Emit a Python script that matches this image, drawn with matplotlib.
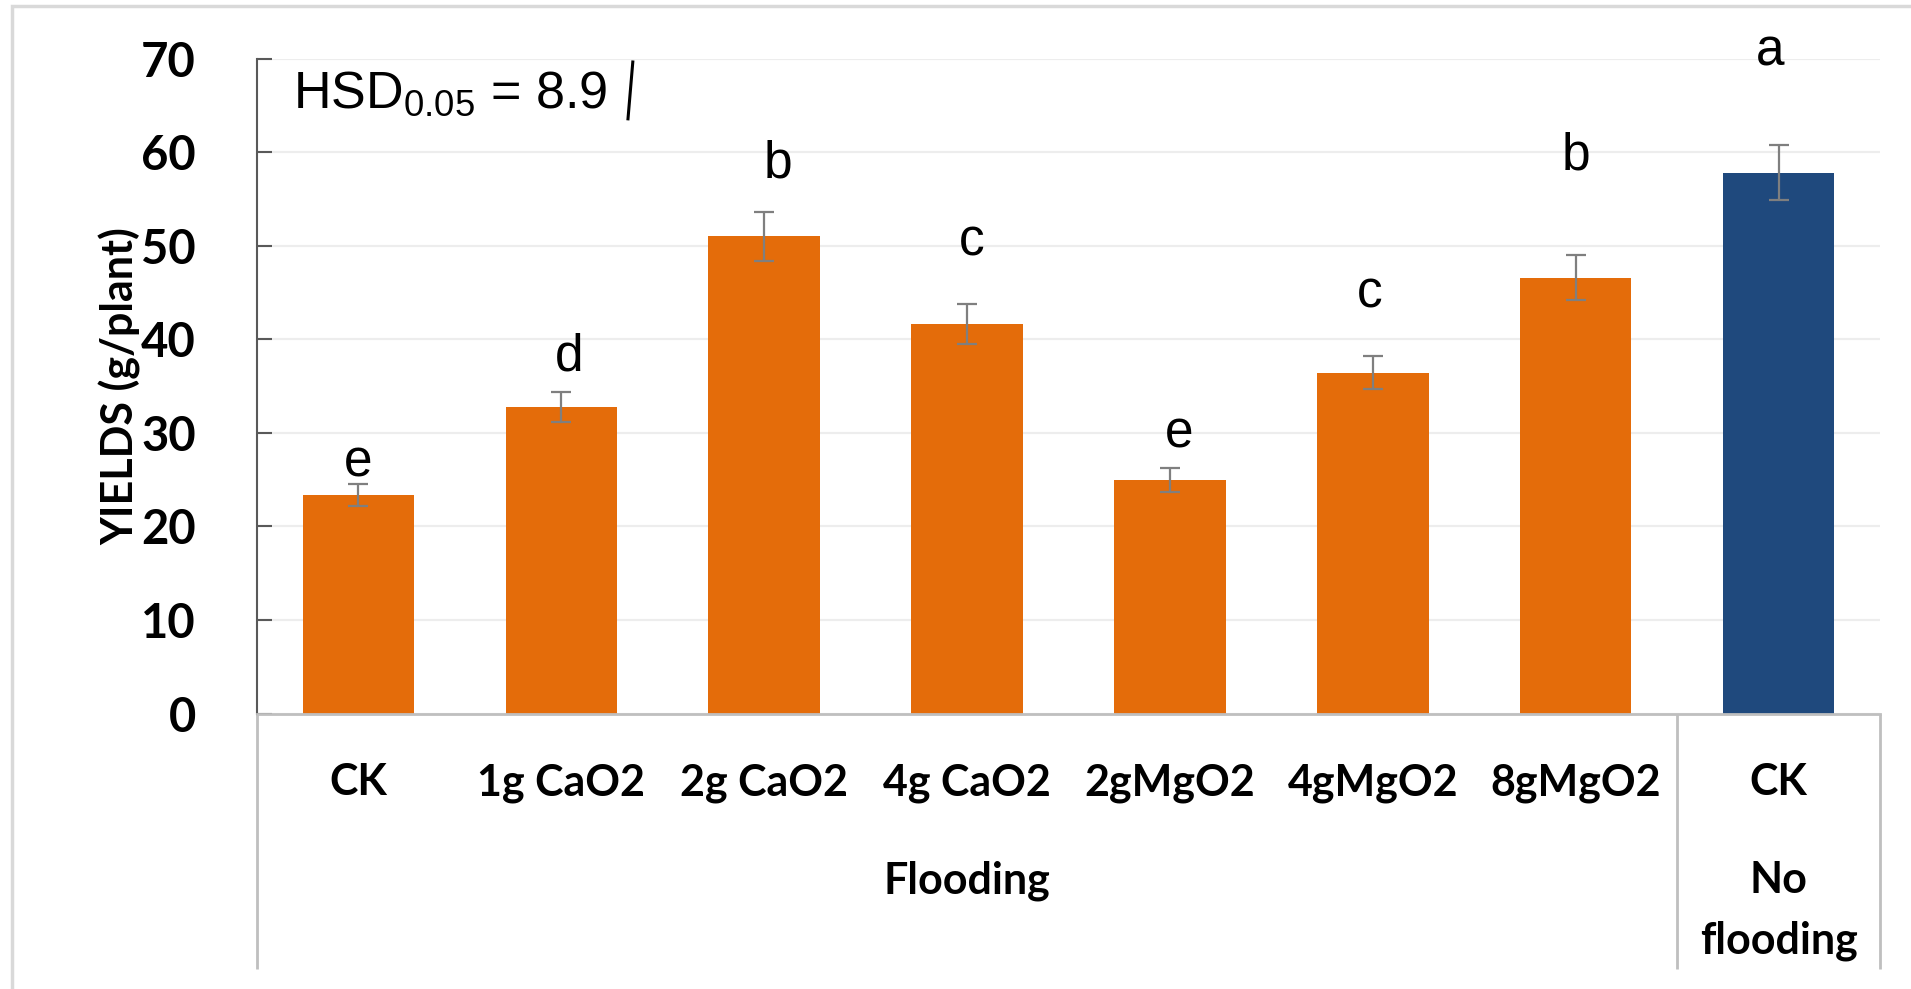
import matplotlib
matplotlib.use("Agg")
import matplotlib.pyplot as plt
import matplotlib.transforms as mtransforms
from matplotlib.patches import Rectangle

# ── Data ──────────────────────────────────────────────────────────────────────
treatments = ["CK", "1g CaO2", "2g CaO2", "4g CaO2", "2gMgO2", "4gMgO2", "8gMgO2", "CK"]
yields     = [23.35, 32.8, 51.0, 41.65, 24.95, 36.45, 46.6, 57.8]
errors     = [1.2, 1.6, 2.6, 2.1, 1.25, 1.8, 2.4, 2.95]
letters    = ["e", "d", "b", "c", "e", "c", "b", "a"]
letter_y   = [25.3, 36.7, 57.3, 49.0, 28.45, 43.4, 58.1, 69.3]
letter_dx  = [0.0, 0.04, 0.07, 0.025, 0.047, -0.015, 0.0, -0.04]
groups     = ["Flooding", "No\nflooding"]
group_size = [7, 1]
hsd_value  = 8.9

ORANGE = "#E46C0A"
BLUE   = "#1F497D"
colors = [ORANGE] * group_size[0] + [BLUE] * group_size[1]

CAT_FONT = "Lato"
LET_FONT = "Liberation Sans"
plt.rcParams["mathtext.fontset"] = "custom"
plt.rcParams["mathtext.rm"] = LET_FONT
plt.rcParams["mathtext.it"] = LET_FONT

fig = plt.figure(figsize=(19.11, 9.89), dpi=100)
fig.patch.set_facecolor("white")
ax = fig.add_axes([257 / 1911, 1 - 713.6 / 989, (1880 - 257) / 1911, (713.6 - 58.6) / 989])

x = list(range(len(yields)))
ax.bar(x, yields, width=0.55, color=colors, edgecolor="none", zorder=2)
ax.errorbar(x, yields, yerr=errors, fmt="none", ecolor="#7F7F7F",
            elinewidth=1.6, capsize=7.5, capthick=1.6, zorder=3)

for xi, dx, ly, lt in zip(x, letter_dx, letter_y, letters):
    ax.text(xi + dx, ly, lt, ha="center", va="baseline", fontsize=37,
            family=LET_FONT, color="black", zorder=4)

ax.set_xlim(-0.5, len(yields) - 0.5)
ax.set_ylim(0, 70)
ax.set_yticks(range(0, 71, 10))
ax.yaxis.grid(True, color="#EDEDED", linewidth=1.6)
ax.set_axisbelow(True)
ax.tick_params(axis="y", direction="in", length=11, width=1.5, color="#595959",
               pad=44, labelsize=34)
for lbl in ax.get_yticklabels():
    lbl.set_fontfamily(CAT_FONT)
    lbl.set_fontweight("bold")
ax.set_xticks([])

for side in ("top", "right"):
    ax.spines[side].set_visible(False)
ax.spines["left"].set_color("#595959")
ax.spines["left"].set_linewidth(1.5)
ax.spines["bottom"].set_color("#BFBFBF")
ax.spines["bottom"].set_linewidth(2)

ax.text(-0.0845, 0.5, "YIELDS (g/plant)", transform=ax.transAxes,
        rotation=90, rotation_mode="anchor", ha="center", va="center",
        fontsize=31, family=CAT_FONT, fontweight="bold")

# ── Two-level category axis ───────────────────────────────────────────────────
trans = mtransforms.blended_transform_factory(ax.transData, ax.transAxes)
for xi, name in zip(x, treatments):
    ax.text(xi, -0.1243, name, transform=trans, ha="center", va="baseline",
            fontsize=31, family=CAT_FONT, fontweight="bold")

start = 0
bounds = [-0.5]
for name, n in zip(groups, group_size):
    centre = start + (n - 1) / 2
    for k, line in enumerate(name.split("\n")):
        ax.text(centre, -0.274 - k * 0.0915, line, transform=trans, ha="center",
                va="baseline", fontsize=31, family=CAT_FONT, fontweight="bold")
    start += n
    bounds.append(start - 0.5)

for b in bounds:
    ax.plot([b, b], [0, -0.39], transform=trans, color="#BFBFBF", lw=2,
            clip_on=False, solid_capstyle="butt")

# ── HSD note ──────────────────────────────────────────────────────────────────
ax.text(-0.3226, 64.7, r"HSD$_{0.05}$ = " + f"{hsd_value}", ha="left", va="baseline",
        fontsize=37.5, family=LET_FONT, color="black")
ax.plot([1.353, 1.328], [69.8, 63.4], color="black", lw=2.2, solid_capstyle="butt")

# outer chart-area border
fig.patches.append(Rectangle((12 / 1911, -0.05), 1.1, 1 - 6 / 989 + 0.05,
                             transform=fig.transFigure, fill=False,
                             edgecolor="#D9D9D9", linewidth=2.5))

fig.savefig("out.png", dpi=100, facecolor="white")
